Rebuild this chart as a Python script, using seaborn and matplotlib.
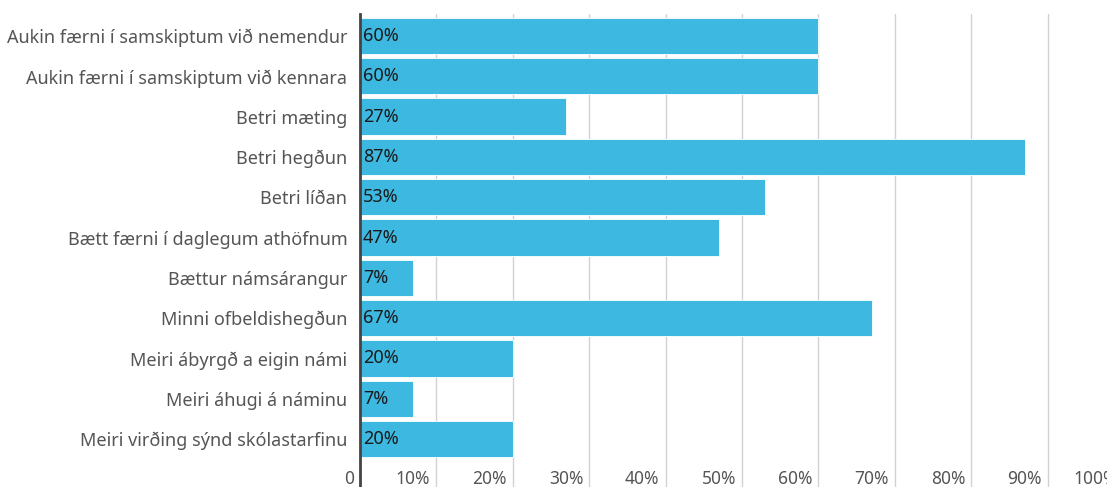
import matplotlib
matplotlib.use("Agg")
import matplotlib.pyplot as plt
import matplotlib.transforms as mtransforms
import seaborn as sns
import pandas as pd

categories = [
    "Aukin færni í samskiptum við nemendur",
    "Aukin færni í samskiptum við kennara",
    "Betri mæting",
    "Betri hegðun",
    "Betri líðan",
    "Bætt færni í daglegum athöfnum",
    "Bættur námsárangur",
    "Minni ofbeldishegðun",
    "Meiri ábyrgð a eigin námi",
    "Meiri áhugi á náminu",
    "Meiri virðing sýnd skólastarfinu",
]
values = [60, 60, 27, 87, 53, 47, 7, 67, 20, 7, 20]
x_ticks = [0, 10, 20, 30, 40, 50, 60, 70, 80, 90, 100]
x_tick_labels = ["0", "10%", "20%", "30%", "40%", "50%", "60%", "70%", "80%", "90%", "100%"]

bar_color = "#3db8e0"

df = pd.DataFrame({"category": categories, "value": values})

sns.set_style("white")
plt.rcParams["font.family"] = ["Noto Sans", "DejaVu Sans"]

fig = plt.figure(figsize=(11.07, 4.87), dpi=100)
# axes runs a little past the right edge, as in the reference (100% is cut off)
ax = fig.add_axes([360 / 1107, 0, 764 / 1107, 473 / 487])

sns.barplot(data=df, x="value", y="category", color=bar_color, saturation=1,
            width=0.9, edgecolor="white", linewidth=0.6, ax=ax, zorder=2)

ax.set_xlim(0, 100)
ax.set_ylim(11.19, -0.546)
ax.set_xticks(x_ticks)
ax.set_xticklabels(x_tick_labels)
ax.set_xlabel("")
ax.set_ylabel("")

ax.grid(axis="x", color="#d2d2d2", linewidth=1.0, zorder=0)
ax.set_axisbelow(True)
for side in ["top", "right", "bottom"]:
    ax.spines[side].set_visible(False)
ax.spines["left"].set_color("#444444")
ax.spines["left"].set_linewidth(2)
ax.spines["left"].set_zorder(3)

ax.tick_params(axis="y", length=0, pad=9, labelsize=13, labelcolor="#555555")
ax.tick_params(axis="x", length=0, pad=-12, labelsize=12.5, labelcolor="#555555")

shift = mtransforms.ScaledTranslation(-6 / 100, 0, fig.dpi_scale_trans)
for lab in ax.get_xticklabels():
    lab.set_horizontalalignment("right")
    lab.set_transform(lab.get_transform() + shift)

text_shift = mtransforms.offset_copy(ax.transData, fig=fig, x=3, y=0, units="dots")
for i, v in enumerate(values):
    ax.text(0, i, f"{v}%", transform=text_shift, ha="left", va="center",
            fontsize=13, color="#1a1a1a", zorder=4)

fig.savefig("out.png", dpi=100)
